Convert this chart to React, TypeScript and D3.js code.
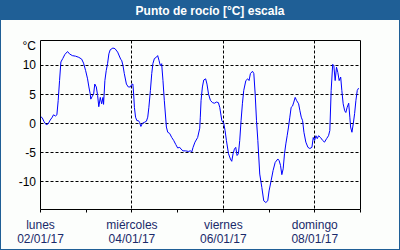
import React from "react";
import * as d3 from "d3";

const title = "Punto de rocío [°C] escala";
const unitLabel = "°C";
const yTicks = [-10, -5, 0, 5, 10];
const dayNames = ["lunes", "miércoles", "viernes", "domingo"];
const dayDates = ["02/01/17", "04/01/17", "06/01/17", "08/01/17"];
const labelDays = [0, 2, 4, 6];
const minorDays = [0, 1, 2, 3, 4, 5, 6, 7];

// hours from 02/01/17 00:00
const hours = [
  0, 0.9, 1.9, 3.0, 4.0, 5.1, 6.2, 6.8, 7.9, 8.6, 9.3, 10.0, 10.7, 11.7, 12.8, 14.2, 15.2, 16.7, 18.4, 20.1,
  21.6, 22.6, 23.7, 24.7, 25.4, 26.1, 26.4, 27.2, 27.9, 28.5, 29.3, 30.0, 30.6, 31.4, 32.1, 32.8, 33.1, 33.8,
  34.5, 35.2, 35.9, 36.6, 38.0, 39.1, 40.5, 42.2, 42.6, 43.3, 44.0, 45.1, 46.1, 47.2, 47.8, 48.5, 48.9, 49.3,
  49.9, 50.6, 51.4, 52.0, 52.7, 53.5, 54.5, 55.6, 56.3, 56.9, 57.7, 58.4, 59.0, 59.8, 60.8, 61.5, 62.2, 62.9,
  63.6, 64.3, 65.0, 66.1, 66.8, 67.8, 68.9, 69.9, 71.0, 72.0, 73.1, 73.8, 74.8, 76.2, 77.6, 78.7, 79.4, 80.1,
  81.1, 82.5, 83.6, 83.9, 84.3, 85.0, 85.7, 86.7, 87.4, 88.2, 89.2, 90.3, 91.3, 92.4, 93.4, 94.1, 95.2, 96.2,
  96.9, 97.6, 98.7, 99.7, 100.4, 101.1, 101.8, 102.5, 103.2, 103.9, 104.6, 105.3, 106.0, 106.7, 107.8, 108.8,
  109.5, 110.2, 111.3, 112.0, 112.7, 113.4, 114.1, 115.1, 116.2, 117.2, 118.3, 119.3, 120.0, 121.1, 122.1,
  123.2, 124.6, 125.3, 126.0, 126.7, 127.4, 128.1, 128.8, 129.5, 130.2, 130.9, 131.6, 132.3, 133.0, 133.7,
  134.4, 135.5, 136.2, 136.9, 137.6, 138.3, 139.3, 140.4, 141.4, 142.5, 143.2, 143.9, 144.6, 145.3, 146.0,
  147.0, 148.1, 149.1, 150.2, 151.2, 151.9, 152.6, 153.4, 154.0, 154.7, 155.4, 156.1, 156.8, 157.6, 158.2,
  158.9, 159.7, 160.3, 161.0, 161.8, 162.4, 162.8, 163.5, 164.2, 164.9, 165.6, 166.3, 167.0,
];
const dewPoint = [
  1.2, 1.0, 0.3, -0.2, -0.05, 0.6, 1.1, 1.5, 1.3, 1.5, 4.0, 7.4, 10.6, 11.2, 11.9, 12.4, 12.0, 11.7, 11.6, 11.4,
  11.1, 10.4, 9.1, 7.7, 6.3, 5.1, 4.2, 4.7, 5.1, 6.8, 6.3, 4.8, 2.9, 4.5, 3.4, 4.5, 3.3, 7.4,
  9.1, 10.3, 12.0, 12.7, 13.0, 12.9, 12.3, 11.0, 10.9, 10.0, 8.6, 6.8, 6.3, 6.3, 6.7, 6.8, 5.1, 2.8,
  1.1, 0.5, 0.5, 0.2, -0.5, 0.05, 0.2, 0.4, 1.1, 2.8, 5.7, 8.6, 10.3, 11.2, 11.4, 11.7, 10.9, 10.0,
  10.3, 7.4, 4.0, -0.6, -1.5, -1.7, -2.4, -2.9, -3.6, -4.2, -4.1, -4.4, -4.7, -4.7, -4.8, -4.7, -4.9, -4.1,
  -3.2, -2.4, -0.8, 1.1, 4.0, 6.3, 7.5, 7.7, 6.8, 5.1, 4.0, 3.6, 3.5, 3.7, 3.6, 2.8, 0.5, 0.05,
  -1.2, -2.9, -5.2, -6.1, -6.5, -5.2, -4.4, -4.1, -5.5, -5.2, -2.9, 0.5, 3.4, 5.7, 7.4, 7.7,
  7.4, 8.6, 9.0, 8.6, 5.1, 0.5, -2.9, -8.7, -11.0, -13.3, -13.6, -13.3, -11.6, -9.8, -8.1,
  -6.7, -6.1, -6.4, -7.2, -8.8, -7.8, -5.2, -3.5, -2.1, -0.6, 1.1, 2.8, 3.0, 3.7, 4.5,
  4.0, 3.4, 2.2, 1.1, 0.5, -1.5, -3.2, -4.1, -4.3, -4.1, -2.4, -2.9, -2.1, -2.6, -2.1,
  -2.4, -2.9, -3.2, -2.6, -2.1, -1.2, 5.7, 10.2, 10.0, 7.4, 9.7, 8.8, 7.4, 8.0, 5.7,
  3.4, 2.2, 1.9, 2.8, 3.5, 1.1, -0.6, -1.5, -0.05, 1.7, 4.0, 5.7, 6.1,
];

const W = 400;
const H = 250;
const frame = "#1f5f96";
const font = "'Liberation Sans', Arial, sans-serif";

export default function App() {
  const left = 40.5, right = 360.5, top = 40.5, bottom = 209.5;
  const x = d3.scaleLinear().domain([0, 168]).range([left, right]);
  const y = d3.scaleLinear().domain([-14.8, 14.3]).range([bottom, top]);
  const snap = (v: number) => Math.round(v - 0.5) + 0.5;
  const line = d3
    .line<number>()
    .x((_, i) => x(hours[i]))
    .y((d) => y(d))
    .curve(d3.curveLinear);

  return (
    <svg
      width={W}
      height={H}
      style={{ position: "absolute", left: 0, top: 0, display: "block" }}
    >
      <rect x={0} y={0} width={W} height={H} fill="#fcfefc" />
      <rect x={0} y={0} width={W} height={20} fill={frame} />
      <rect x={0.5} y={0.5} width={W - 1} height={H - 1} fill="none" stroke={frame} strokeWidth={1} />
      <text
        x={210}
        y={15}
        textAnchor="middle"
        fill="#ffffff"
        fontFamily={font}
        fontWeight="bold"
        fontSize={12}
      >
        {title}
      </text>

      {/* grid */}
      {yTicks.map((t) => (
        <line
          key={"gy" + t}
          x1={left}
          x2={right}
          y1={snap(y(t))}
          y2={snap(y(t))}
          stroke="#000"
          strokeWidth={1}
          strokeDasharray="3,2"
        />
      ))}
      {labelDays.slice(1).map((d) => (
        <line
          key={"gx" + d}
          x1={snap(x(d * 24))}
          x2={snap(x(d * 24))}
          y1={top}
          y2={bottom}
          stroke="#000"
          strokeWidth={1}
          strokeDasharray="3,2"
        />
      ))}

      {/* data line */}
      <path d={line(dewPoint) || ""} fill="none" stroke="#0000ff" strokeWidth={1} />

      {/* frame of plot */}
      <path
        d={`M${left},${bottom}V${top}H${right}V${bottom}H${left}`}
        fill="none"
        stroke="#000"
        strokeWidth={1}
      />
      {minorDays.map((d) => (
        <line
          key={"tk" + d}
          x1={snap(x(d * 24))}
          x2={snap(x(d * 24))}
          y1={bottom}
          y2={bottom + 3}
          stroke="#000"
          strokeWidth={1}
        />
      ))}

      {/* y labels */}
      {yTicks.map((t) => (
        <text
          key={"yl" + t}
          x={36}
          y={y(t) + 4}
          textAnchor="end"
          fontFamily={font}
          fontSize={12}
          fill="#000"
        >
          {t}
        </text>
      ))}
      <text x={36} y={50} textAnchor="end" fontFamily={font} fontSize={12} fill="#000">
        {unitLabel}
      </text>

      {/* x labels */}
      {labelDays.map((d, i) => (
        <g key={"xl" + d}>
          <text
            x={x(d * 24)}
            y={229}
            textAnchor="middle"
            fontFamily={font}
            fontSize={12}
            fill="#1a2a6a"
          >
            {dayNames[i]}
          </text>
          <text
            x={x(d * 24)}
            y={243}
            textAnchor="middle"
            fontFamily={font}
            fontSize={12}
            fill="#1a2a6a"
          >
            {dayDates[i]}
          </text>
        </g>
      ))}
    </svg>
  );
}
